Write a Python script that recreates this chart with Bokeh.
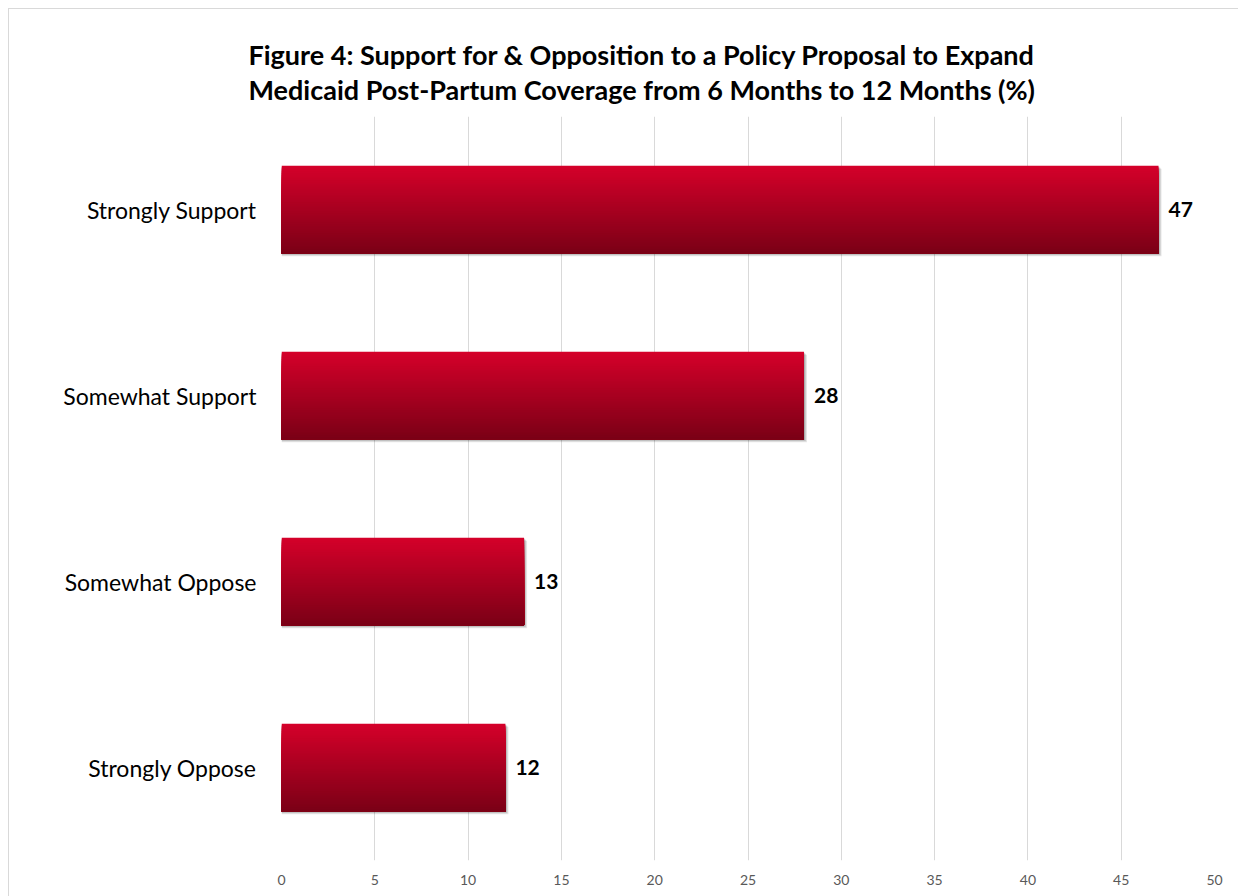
import numpy as np
from bokeh.plotting import figure
from bokeh.models import Range1d, FixedTicker, ColumnDataSource
from bokeh.core.properties import value
from bokeh.embed import file_html
from bokeh.resources import INLINE

categories = ["Strongly Support", "Somewhat Support", "Somewhat Oppose", "Strongly Oppose"]
values = [47, 28, 13, 12]
x_ticks = [0, 5, 10, 15, 20, 25, 30, 35, 40, 45, 50]
title_lines = ["Figure 4: Support for & Opposition to a Policy Proposal to Expand",
               "Medicaid Post-Partum Coverage from 6 Months to 12 Months (%)"]

FONT = "Lato"
p = figure(width=1230, height=888, output_backend="svg", toolbar_location=None,
           x_range=Range1d(0, 50), y_range=Range1d(4.5, 0.5),
           min_border_left=272, min_border_right=25, min_border_top=107, min_border_bottom=37)
p.styles = {"margin-left": "8px", "margin-top": "8px",
            "border-left": "1px solid #d9d9d9", "border-top": "1px solid #d9d9d9"}
p.outline_line_color = None
p.background_fill_color = "white"

# title
p.title.text = "\n".join(title_lines)
p.title.align = "left"
p.title.offset = -33
p.title.text_font = FONT
p.title.text_font_style = "bold"
p.title.text_font_size = "27px"
p.title.text_line_height = 1.07
p.title.standoff = 20
p.title.text_color = "#000000"

# x axis
p.xaxis.ticker = FixedTicker(ticks=x_ticks)
p.xaxis.axis_line_color = None
p.xaxis.major_tick_line_color = None
p.xaxis.minor_tick_line_color = None
p.xaxis.major_tick_out = 0
p.xaxis.major_label_standoff = 14
p.xaxis.major_label_text_font = FONT
p.xaxis.major_label_text_font_size = "14px"
p.xaxis.major_label_text_color = "#595959"
p.xgrid.ticker = FixedTicker(ticks=x_ticks)
p.xgrid.grid_line_color = "#d9d9d9"
p.ygrid.grid_line_color = None

# y axis
ypos = list(range(1, len(categories) + 1))
p.yaxis.ticker = FixedTicker(ticks=ypos)
p.yaxis.major_label_overrides = {i: c for i, c in zip(ypos, categories)}
p.yaxis.axis_line_color = None
p.yaxis.major_tick_line_color = None
p.yaxis.minor_tick_line_color = None
p.yaxis.major_tick_out = 0
p.yaxis.major_label_standoff = 25
p.yaxis.major_label_text_font = FONT
p.yaxis.major_label_text_font_size = "23px"
p.yaxis.major_label_text_color = "#000000"

bar_h = 0.47
px_per_y = 744 / 4.0
px_per_x = 931 / 50.0
# shadow
for k, a in [(3, 0.10), (2, 0.12), (1, 0.15)]:
    p.hbar(y=[y + k / px_per_y for y in ypos], left=0, right=[v + k / px_per_x for v in values],
           height=bar_h, fill_color="#000000", fill_alpha=a, line_color=None)

# gradient bars via overlapping strips (each strip runs to the bar bottom)
N = 48
top = np.array([213, 0, 42])
bot = np.array([122, 0, 22])
tops, bottoms, rights, cols = [], [], [], []
for y, v in zip(ypos, values):
    for i in range(N):
        t = (i + 0.5) / N
        c = top + (bot - top) * t
        tops.append(y - bar_h / 2 + i * bar_h / N)
        bottoms.append(y + bar_h / 2)
        rights.append(v)
        cols.append("#%02x%02x%02x" % tuple(int(round(q)) for q in c))
src = ColumnDataSource(dict(top=tops, bottom=bottoms, right=rights, color=cols))
p.quad(left=0, right="right", top="top", bottom="bottom", fill_color="color",
       line_color=None, source=src)

# data labels
lsrc = ColumnDataSource(dict(x=values, y=ypos, t=[str(v) for v in values]))
p.text(x="x", y="y", text="t", source=lsrc, x_offset=10, text_baseline="middle",
       text_align="left", text_font=value(FONT), text_font_style="bold",
       text_font_size="21px", text_color="#000000")

html = file_html(p, INLINE)
html = html.replace("<body>", "<body style=\"margin:0\">")
open("out.html", "w").write(html)
